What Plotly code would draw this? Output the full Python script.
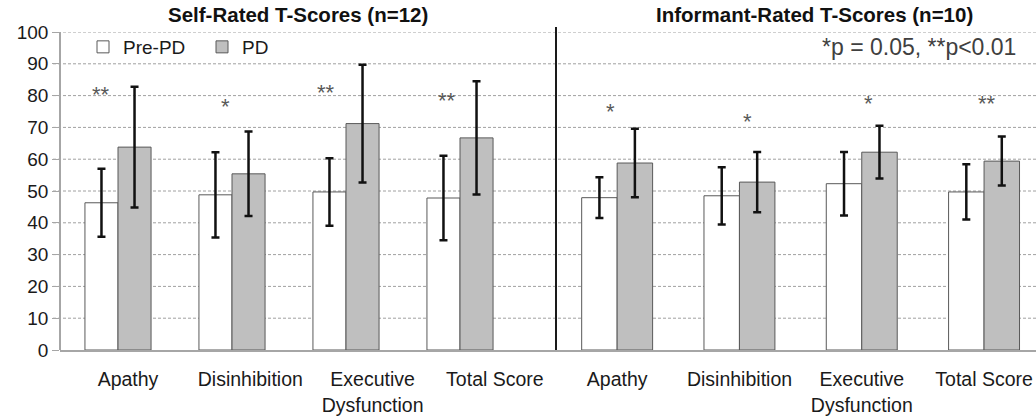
import plotly.graph_objects as go

categories = ["Apathy", "Disinhibition", "Executive<br>Dysfunction", "Total Score"]
series_names = ["Pre-PD", "PD"]

self_pre = [46.3, 48.8, 49.7, 47.8]
self_pre_err = [10.7, 13.4, 10.6, 13.3]
self_pd = [63.8, 55.4, 71.2, 66.7]
self_pd_err = [19.0, 13.3, 18.5, 17.8]

inf_pre = [47.9, 48.5, 52.3, 49.7]
inf_pre_err = [6.4, 9.0, 10.0, 8.7]
inf_pd = [58.8, 52.8, 62.2, 59.4]
inf_pd_err = [10.8, 9.5, 8.3, 7.7]

self_stars = ["**", "*", "**", "**"]
self_star_y = [82.0, 78.0, 82.5, 80.0]
inf_stars = ["*", "*", "*", "**"]
inf_star_y = [76.5, 73.5, 79.0, 79.0]

panel_titles = ["Self-Rated T-Scores (n=12)", "Informant-Rated T-Scores (n=10)"]
sig_note = "*p = 0.05, **p<0.01"
y_ticks = list(range(0, 101, 10))

FONT = "Liberation Sans, Arial, sans-serif"
fill = ["#ffffff", "#bfbfbf"]

fig = go.Figure()

def add_pair(xaxis, pre, pre_err, pd_, pd_err, show):
    for name, vals, errs, col in [(series_names[0], pre, pre_err, fill[0]),
                                  (series_names[1], pd_, pd_err, fill[1])]:
        fig.add_trace(go.Bar(
            x=list(range(len(categories))), y=vals, name=name,
            xaxis=xaxis, yaxis="y", showlegend=show, legendgroup=name,
            marker=dict(color=col, line=dict(color="#595959", width=1)),
            error_y=dict(type="data", array=errs, visible=True,
                         color="#111111", thickness=2.5, width=4),
            hoverinfo="skip",
        ))

add_pair("x", self_pre, self_pre_err, self_pd, self_pd_err, True)
add_pair("x2", inf_pre, inf_pre_err, inf_pd, inf_pd_err, False)

W, H = 1036, 419
ml, mr, mt, mb = 60, 0, 32, 69
pw = W - ml - mr
ph = H - mt - mb

left_dom = [(61 - ml) / pw, (517 - ml) / pw]
right_dom = [(556 - ml) / pw, 1.0]
right_span = (W - 556) / 122.3

fig.update_layout(
    width=W, height=H,
    margin=dict(l=ml, r=mr, t=mt, b=mb, autoexpand=False),
    paper_bgcolor="white", plot_bgcolor="rgba(0,0,0,0)",
    barmode="group", bargap=0.42, bargroupgap=0,
    font=dict(family=FONT, color="#1a1a1a"),
    xaxis=dict(domain=left_dom, range=[-0.5, 3.5], anchor="y",
               showticklabels=False, showgrid=False, zeroline=False, showline=False),
    xaxis2=dict(domain=right_dom, range=[-0.5, -0.5 + right_span], anchor="y",
                showticklabels=False, showgrid=False, zeroline=False, showline=False),
    xaxis3=dict(domain=[0, 1], anchor="y",
                range=[(ml - 128) / 122.3, (W - 128) / 122.3],
                tickvals=list(range(8)), ticktext=categories * 2,
                tickfont=dict(size=19.5, color="#1a1a1a", family=FONT),
                ticks="", showgrid=False, zeroline=False,
                showline=True, linecolor="#a6a6a6", linewidth=1.5,
                ticklabelstandoff=11, automargin=False),
    yaxis=dict(range=[0, 100], domain=[0, 1], anchor="free", position=0,
               tickvals=y_ticks, tickfont=dict(size=19, color="#1a1a1a", family=FONT),
               showgrid=False, zeroline=False, showline=True, linecolor="#a6a6a6",
               linewidth=1.5, ticks="outside", ticklen=7, tickcolor="#a6a6a6",
               automargin=False),
    legend=dict(orientation="h", x=(97 - 14 - ml) / pw, y=(350 - 47) / ph,
                xanchor="left", yanchor="middle",
                font=dict(size=19, color="#1a1a1a", family=FONT),
                bgcolor="rgba(0,0,0,0)", traceorder="normal",
                entrywidth=74, entrywidthmode="pixels"),
)

# invisible trace so the label axis is drawn
fig.add_trace(go.Scatter(x=list(range(8)), y=[0] * 8, xaxis="x3", yaxis="y",
                         mode="markers", marker=dict(opacity=0), showlegend=False,
                         hoverinfo="skip"))

shapes = []
for v in y_ticks[1:]:
    shapes.append(dict(type="line", xref="paper", yref="y", x0=-7 / pw, x1=1, y0=v, y1=v,
                       line=dict(color="#a0a0a0", width=1, dash="3px,2px"), layer="below"))
shapes.append(dict(type="line", xref="paper", yref="paper",
                   x0=right_dom[0], x1=right_dom[0], y0=0, y1=(350 - 27) / ph,
                   line=dict(color="#1a1a1a", width=2)))
fig.update_layout(shapes=shapes)

ann = []
for i, (s, yv) in enumerate(zip(self_stars, self_star_y)):
    ann.append(dict(x=i, y=yv, xref="x", yref="y", text=s, showarrow=False,
                    xshift=[-17, -7, -20, -13][i], yshift=-5,
                    font=dict(size=22, color="#595959", family=FONT)))
for i, (s, yv) in enumerate(zip(inf_stars, inf_star_y)):
    ann.append(dict(x=i, y=yv, xref="x2", yref="y", text=s, showarrow=False,
                    xshift=[-7, 8, 7, 3][i], yshift=-5,
                    font=dict(size=22, color="#595959", family=FONT)))
ann.append(dict(x=(298 - ml) / pw, y=(350 - 15) / ph, xref="paper", yref="paper",
                xanchor="center", yanchor="middle",
                text="<b>" + panel_titles[0] + "</b>", showarrow=False,
                font=dict(size=20.5, color="#111111", family=FONT)))
ann.append(dict(x=(814 - ml) / pw, y=(350 - 15) / ph, xref="paper", yref="paper",
                xanchor="center", yanchor="middle",
                text="<b>" + panel_titles[1] + "</b>", showarrow=False,
                font=dict(size=20.5, color="#111111", family=FONT)))
ann.append(dict(x=(1018 - ml) / pw, y=(350 - 47) / ph, xref="paper", yref="paper",
                xanchor="right", yanchor="middle", text=sig_note, showarrow=False,
                font=dict(size=23, color="#404040", family=FONT)))
fig.update_layout(annotations=ann)

fig.write_html("out.html", config={"displayModeBar": False},
               post_script="document.body.style.margin='0';document.body.style.padding='0';")
